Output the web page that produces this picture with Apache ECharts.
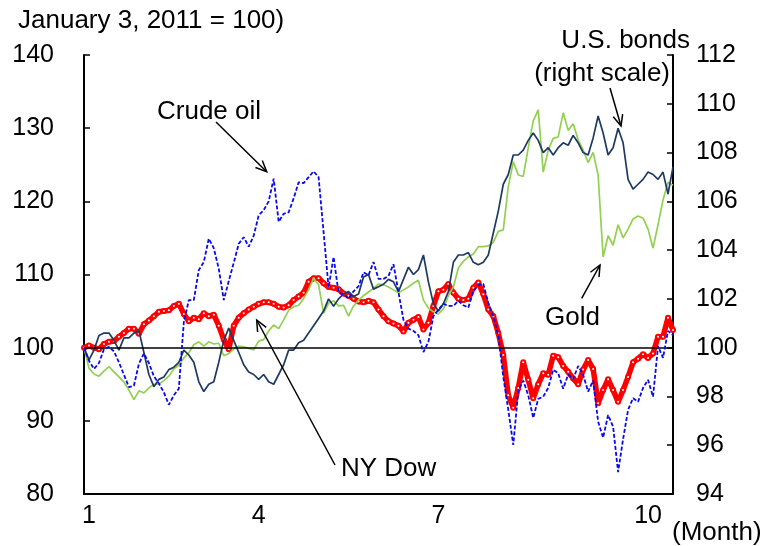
<!DOCTYPE html>
<html><head><meta charset="utf-8">
<script src="https://cdn.jsdelivr.net/npm/echarts@6/dist/echarts.min.js"></script>
<style>html,body{margin:0;padding:0;background:#fff}#c{width:762px;height:546px}</style>
</head><body><div id="c"></div>
<script>
// Month tick labels and the data index at which each is shown
const monthLabels = ['1', '4', '7', '10'];
const monthIndex = [1, 35, 71, 113];

// NY Dow (left scale, January 3, 2011 = 100)
const nyDow = [100.0,100.3,100.0,99.8,100.5,100.8,100.9,101.5,102.0,102.6,
102.6,101.9,103.2,103.7,104.3,104.9,105.0,105.1,105.7,106.0,
104.6,103.6,104.1,103.9,104.7,104.3,104.5,103.0,101.1,99.8,
103.0,104.1,104.7,105.2,105.6,106.0,106.2,106.2,106.0,105.6,
105.5,105.8,106.5,107.0,107.5,109.0,109.5,109.5,108.8,108.3,
108.2,108.0,107.4,107.1,106.7,106.3,106.2,106.4,106.2,105.2,
104.3,103.6,103.3,103.0,102.2,103.4,103.8,104.2,102.5,103.4,
105.7,107.7,107.9,108.7,107.5,106.7,106.5,106.7,108.2,108.9,
107.3,105.2,104.3,102.0,99.0,93.5,91.8,94.5,98.0,95.6,
93.1,95.0,96.5,96.3,98.9,98.7,97.5,96.7,95.8,95.0,
97.0,98.3,97.1,92.4,94.2,95.7,94.2,92.6,94.2,96.0,
98.0,98.5,99.1,98.6,99.2,101.5,101.5,104.1,102.4];

// Crude oil (left scale)
const crudeOil = [100.0,98.2,97.1,97.9,99.8,100.1,99.5,98.0,96.3,94.6,
94.8,97.8,99.2,97.9,96.1,95.1,93.9,92.2,93.5,94.4,
103.5,106.5,106.5,110.6,111.7,114.9,113.6,110.8,106.5,109.1,
111.6,114.2,115.1,113.8,115.3,118.1,118.8,120.0,123.1,117.2,
118.3,118.5,120.4,122.6,122.5,123.3,124.1,123.3,115.8,108.2,
112.4,107.5,107.3,106.7,107.7,108.4,110.3,109.9,111.7,109.4,
109.4,109.8,111.4,107.6,103.8,102.6,102.3,101.7,99.4,100.8,
104.3,105.2,106.0,105.7,105.7,106.4,105.8,105.5,107.7,108.6,
108.7,106.1,104.3,101.7,96.0,91.5,86.7,94.1,95.5,93.5,
90.4,93.0,93.3,94.5,97.0,96.5,94.4,96.3,95.7,97.5,
96.3,94.0,95.5,89.9,87.7,90.8,89.2,83.0,87.5,91.5,
93.1,92.6,94.5,95.6,93.3,100.2,98.6,102.3,101.7];

// Gold (left scale)
const gold = [100.0,97.2,96.4,96.1,96.8,97.4,96.7,96.0,95.3,94.2,
92.9,94.1,93.8,94.5,95.0,95.0,95.5,96.1,97.1,97.6,
98.6,99.3,100.4,100.8,100.2,100.8,100.5,100.6,98.9,99.2,
99.8,100.2,100.1,99.9,99.7,100.9,101.1,102.3,103.1,102.6,
103.8,105.1,105.6,105.8,106.7,107.9,109.5,108.6,104.7,106.1,
106.4,105.7,105.8,104.3,105.7,106.5,107.1,107.6,108.1,108.7,
108.6,108.3,107.9,107.5,107.9,108.3,108.8,109.2,106.5,105.4,
104.9,104.6,105.3,107.1,108.3,110.9,111.8,112.4,112.8,113.8,
113.8,113.9,114.4,115.9,116.1,122.0,125.4,123.6,123.4,127.3,
131.0,132.5,124.0,127.0,128.6,128.8,132.1,129.7,130.6,128.4,
127.0,125.3,126.7,123.6,112.4,115.3,114.0,116.8,115.0,116.2,
117.6,118.0,117.7,116.2,113.6,116.8,120.2,122.6,122.2];

// U.S. bonds (right scale)
const usBonds = [100.0,99.5,99.9,100.5,100.6,100.6,100.3,99.9,100.4,100.4,
100.6,100.7,99.8,98.9,98.4,98.7,98.8,99.1,99.2,99.4,
99.9,99.7,99.4,98.6,98.2,98.5,98.6,99.4,100.3,100.8,
100.3,99.8,99.3,99.0,98.9,98.7,98.9,98.6,98.5,98.9,
99.3,99.9,99.9,100.2,100.3,100.6,100.9,101.2,101.5,102.0,
101.7,102.0,102.2,102.3,102.1,102.2,102.9,103.0,102.4,102.5,
102.6,102.8,102.7,102.3,102.8,103.3,103.0,103.2,103.8,102.7,
101.8,101.5,101.8,102.3,103.5,103.8,103.8,103.9,103.5,103.4,
103.5,103.8,104.7,105.6,106.7,107.1,107.9,107.9,108.1,108.5,
108.8,108.5,108.0,108.2,107.9,108.2,108.4,108.3,108.7,108.4,
108.0,107.9,108.6,109.5,108.8,107.9,108.2,109.0,108.4,106.9,
106.5,106.7,106.9,107.2,107.1,106.9,107.2,106.3,107.4];

const leftScale = { min: 80, max: 140, interval: 10 };
const rightScale = { min: 94, max: 112, interval: 2 };
const baseLevel = 100;

const FONT = '"Liberation Sans", Arial, sans-serif';
const categories = nyDow.map((_, i) => {
  const k = monthIndex.indexOf(i);
  return k >= 0 ? monthLabels[k] : '';
});

function arrow(x1, y1, x2, y2) {
  const a = Math.atan2(y2 - y1, x2 - x1), L = 12, w = 0.42;
  const st = { stroke: '#000', lineWidth: 1.5, fill: null };
  return [
    { type: 'polyline', shape: { points: [[x1, y1], [x2, y2]] }, style: st, z: 100 },
    { type: 'polyline', shape: { points: [
      [x2 - L * Math.cos(a - w), y2 - L * Math.sin(a - w)], [x2, y2],
      [x2 - L * Math.cos(a + w), y2 - L * Math.sin(a + w)]] }, style: st, z: 100 }
  ];
}
function label(text, x, y, align) {
  return { type: 'text', x: x, y: y, z: 100,
    style: { text: text, font: '26px ' + FONT, fill: '#000', align: align || 'left', verticalAlign: 'middle' } };
}

const chart = echarts.init(document.getElementById('c'), null, { renderer: 'canvas' });
chart.setOption({
  animation: false,
  backgroundColor: '#fff',
  grid: { left: 84, right: 89, top: 55, bottom: 52, containLabel: false },
  xAxis: {
    type: 'category', data: categories, boundaryGap: false,
    axisLine: { onZero: false, lineStyle: { color: '#000', width: 2 } },
    axisTick: { show: false },
    axisLabel: { interval: (i) => categories[i] !== '', color: '#000', fontSize: 25, fontFamily: FONT, margin: 10 },
    splitLine: { show: false }
  },
  yAxis: [
    { type: 'value', position: 'left', min: leftScale.min, max: leftScale.max, interval: leftScale.interval,
      axisLine: { show: true, lineStyle: { color: '#000', width: 2 } },
      axisTick: { show: true, inside: true, length: 6, lineStyle: { color: '#000', width: 1.5 } },
      axisLabel: { color: '#000', fontSize: 25, fontFamily: FONT, margin: 30 },
      splitLine: { show: false } },
    { type: 'value', position: 'right', min: rightScale.min, max: rightScale.max, interval: rightScale.interval,
      axisLine: { show: true, lineStyle: { color: '#000', width: 2 } },
      axisTick: { show: true, inside: true, length: 6, lineStyle: { color: '#000', width: 1.5 } },
      axisLabel: { color: '#000', fontSize: 25, fontFamily: FONT, margin: 23 },
      splitLine: { show: false } }
  ],
  series: [
    { name: 'NY Dow', type: 'line', data: nyDow, yAxisIndex: 0, z: 2,
      lineStyle: { color: '#ff0000', width: 5.5 },
      symbol: 'circle', symbolSize: 4, showSymbol: true, showAllSymbol: true,
      itemStyle: { color: '#ffffff', borderColor: '#ff0000', borderWidth: 2 },
      markLine: { silent: true, symbol: ['none', 'none'], label: { show: false },
        lineStyle: { color: '#000', width: 1.5, type: 'solid' }, data: [{ yAxis: baseLevel }] } },
    { name: 'Gold', type: 'line', data: gold, yAxisIndex: 0, z: 3, showSymbol: false,
      lineStyle: { color: '#92d050', width: 1.7 } },
    { name: 'U.S. bonds', type: 'line', data: usBonds, yAxisIndex: 1, z: 4, showSymbol: false,
      lineStyle: { color: '#1f3a60', width: 1.7 } },
    { name: 'Crude oil', type: 'line', data: crudeOil, yAxisIndex: 0, z: 5, showSymbol: false,
      lineStyle: { color: '#0a0ae8', width: 1.8, type: [4, 2] } }
  ],
  graphic: [
    label('January 3, 2011 = 100)', 18, 21),
    label('Crude oil', 157, 112),
    label('U.S. bonds', 690, 41, 'right'),
    label('(right scale)', 670, 74, 'right'),
    label('Gold', 545, 318),
    label('NY Dow', 341, 469),
    label('(Month)', 672, 533),
    ...arrow(216, 122, 266.7, 171.7),
    ...arrow(610, 88, 621, 126),
    ...arrow(581.7, 298.3, 600, 265),
    ...arrow(335, 465, 256.7, 320)
  ]
});
</script>
</body></html>
